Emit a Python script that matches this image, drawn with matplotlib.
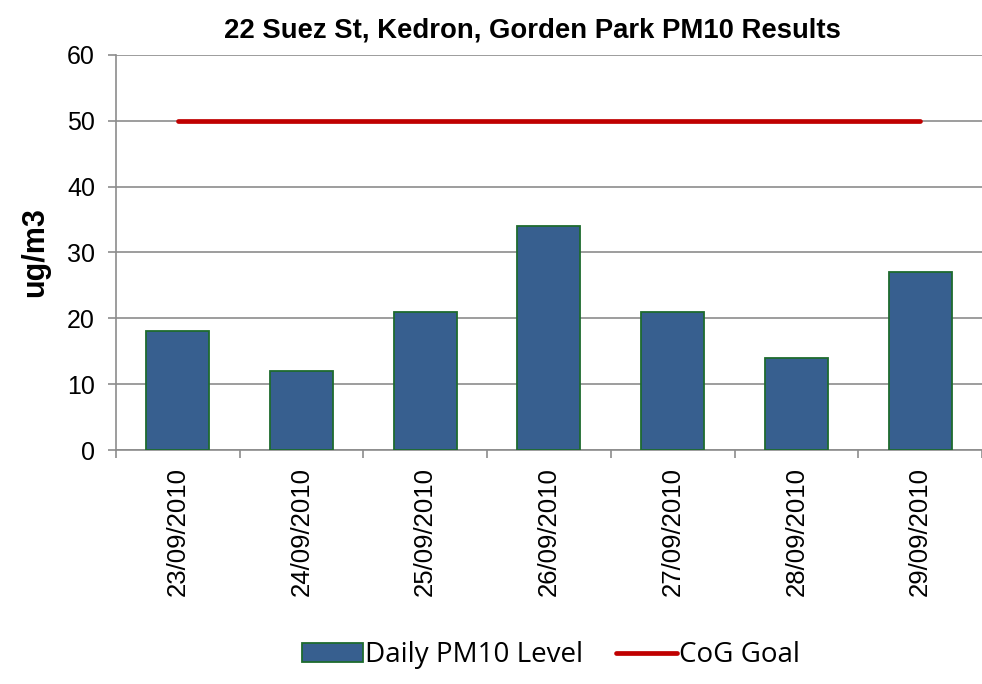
import numpy as np
import matplotlib
matplotlib.use("Agg")
import matplotlib.pyplot as plt

dates = ["23/09/2010", "24/09/2010", "25/09/2010", "26/09/2010",
         "27/09/2010", "28/09/2010", "29/09/2010"]
pm10 = [18, 12, 21, 34, 21, 14, 27]
goal = [50, 50, 50, 50, 50, 50, 50]

plt.rcParams["font.family"] = ["Liberation Sans", "DejaVu Sans"]

fig = plt.figure(figsize=(9.82, 6.84), dpi=100)
ax = fig.add_axes([0.118, 0.342, 0.882, 0.578])

x = np.arange(len(dates))
bars = ax.bar(x, pm10, 0.51, color="#375F8F", edgecolor="#1E6B2E", linewidth=1.3,
              label="Daily PM10 Level", zorder=3)
line, = ax.plot(x, goal, color="#C00000", lw=3.4, label="CoG Goal", zorder=4,
                solid_capstyle="round")

ax.set_xlim(-0.5, len(dates) - 0.5)
ax.set_ylim(0, 60)
ax.set_yticks(range(0, 61, 10))
ax.yaxis.grid(True, color="#8C8C8C", lw=1.2, zorder=0)
ax.set_xticks(np.arange(-0.5, len(dates), 1.0), minor=False)
ax.set_xticklabels([])
ax.set_xticks(x, minor=True)
ax.set_xticklabels(dates, minor=True, rotation=90, fontsize=18.5)
ax.tick_params(axis="x", which="minor", length=0, pad=12)
ax.tick_params(axis="x", which="major", length=6, color="#8C8C8C", width=1.2)
ax.tick_params(axis="y", length=6, color="#8C8C8C", width=1.2, labelsize=18, pad=9)
for s in ["top", "right"]:
    ax.spines[s].set_visible(False)
for s in ["left", "bottom"]:
    ax.spines[s].set_color("#8C8C8C")
    ax.spines[s].set_linewidth(1.2)

ax.set_ylabel("ug/m3", fontsize=22, fontweight="bold", labelpad=12)
fig.text(0.542, 0.956, "22 Suez St, Kedron, Gorden Park PM10 Results", fontsize=19.8,
         fontweight="bold", ha="center", va="center")

fig.legend(handles=[bars, line], loc="center", bbox_to_anchor=(0.561, 0.042), ncol=2,
           frameon=False, prop={"family": "Open Sans", "size": 20}, handlelength=2.2,
           handletextpad=0.05, columnspacing=1.2)

fig.savefig("out.png", dpi=100, facecolor="white")
